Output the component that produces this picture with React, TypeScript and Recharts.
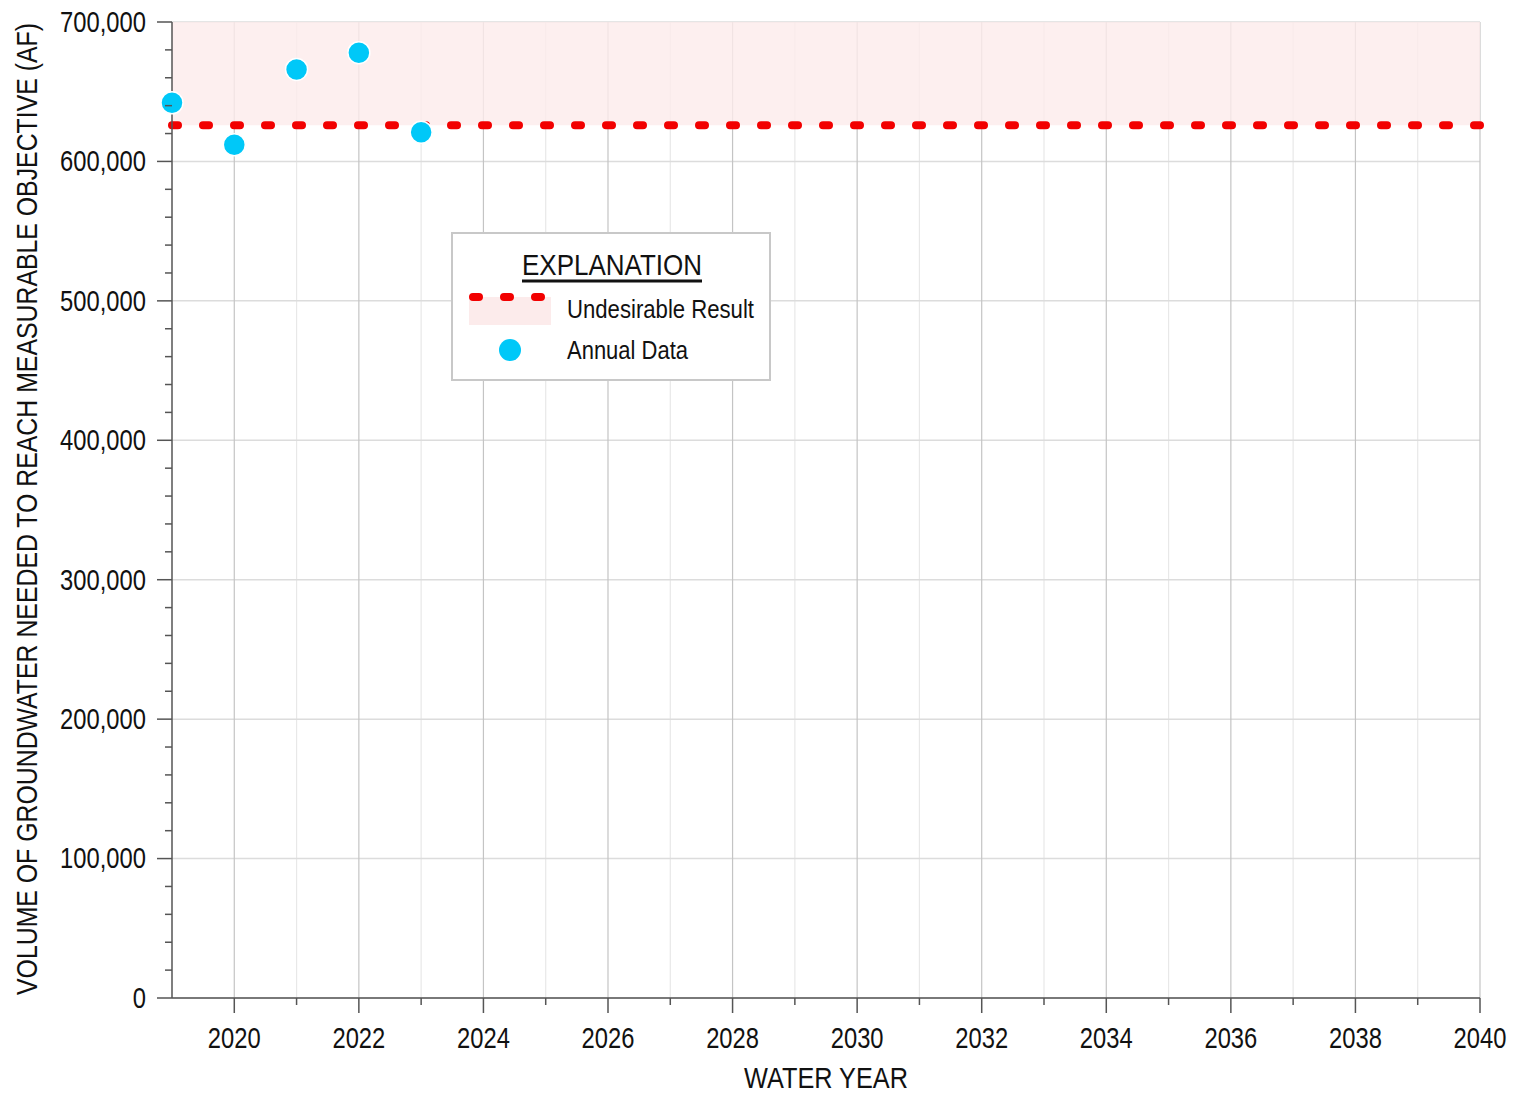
import React from 'react'
import {
  CartesianGrid,
  ComposedChart,
  Label,
  ReferenceArea,
  ReferenceLine,
  Scatter,
  XAxis,
  YAxis,
} from 'recharts'

const years = [2019, 2020, 2021, 2022, 2023]
const annualValues = [642000, 612000, 666000, 678000, 621000]
const undesirableResult = 626000

const xTicks = [2020, 2021, 2022, 2023, 2024, 2025, 2026, 2027, 2028, 2029, 2030, 2031, 2032, 2033, 2034, 2035, 2036, 2037, 2038, 2039, 2040]
const xMajor = [2020, 2022, 2024, 2026, 2028, 2030, 2032, 2034, 2036, 2038, 2040]
const xMinor = [2021, 2023, 2025, 2027, 2029, 2031, 2033, 2035, 2037, 2039]
const yMajor = [0, 100000, 200000, 300000, 400000, 500000, 600000, 700000]
const yTicks = [
  0, 20000, 40000, 60000, 80000, 100000, 120000, 140000, 160000, 180000, 200000,
  220000, 240000, 260000, 280000, 300000, 320000, 340000, 360000, 380000, 400000,
  420000, 440000, 460000, 480000, 500000, 520000, 540000, 560000, 580000, 600000,
  620000, 640000, 660000, 680000, 700000,
]

const data = years.map((year, i) => ({ year, value: annualValues[i] }))

// no Arial Narrow here, so squeeze Liberation Sans (same metrics as Arial)
const FONT = '"Liberation Sans", Arial, sans-serif'
const SQUEEZE = 0.82
const CYAN = '#00c8f8'
const RED = '#f20000'
const PINK = '#fcebeb'

const Narrow = ({ x, y, anchor = 'start', size = 29, children }: any) => (
  <text
    transform={`translate(${x} ${y}) scale(${SQUEEZE} 1)`}
    textAnchor={anchor}
    dominantBaseline="central"
    fontSize={size}
    fontFamily={FONT}
    fill="#111"
  >
    {children}
  </text>
)

const YTick = (props: any) => {
  const { x, y, payload } = props
  const v = payload.value as number
  const major = v % 100000 === 0
  return (
    <g>
      <line x1={x} x2={x - (major ? 15 : 7)} y1={y} y2={y} stroke="#555" strokeWidth={1.5} />
      {major && (
        <Narrow x={x - 26} y={y} anchor="end">
          {v.toLocaleString('en-US')}
        </Narrow>
      )}
    </g>
  )
}

const XTick = (props: any) => {
  const { x, y, payload } = props
  const v = payload.value as number
  const major = v % 2 === 0
  return (
    <g>
      <line x1={x} x2={x} y1={y} y2={y + (major ? 15 : 7)} stroke="#555" strokeWidth={1.5} />
      {major && (
        <Narrow x={x} y={y + 40} anchor="middle">
          {v}
        </Narrow>
      )}
    </g>
  )
}

const Dot = (props: any) => (
  <circle cx={props.cx} cy={props.cy} r={11} fill={CYAN} stroke="#fff" strokeWidth={1.5} />
)

const Explanation = () => (
  <div
    style={{
      position: 'absolute',
      left: 443,
      top: 224,
      width: 316,
      height: 145,
      border: '2px solid #c8c8c8',
      background: '#fff',
    }}
  >
    <svg width={316} height={145} overflow="visible" style={{ position: 'absolute', left: 0, top: 0, overflow: 'visible' }}>
      <text x={69} y={30} textLength={180} lengthAdjust="spacingAndGlyphs" dominantBaseline="central" fontSize={30} textDecoration="underline" fontFamily={FONT} fill="#111">
        EXPLANATION
      </text>
      <rect x={16} y={63} width={82} height={28} fill={PINK} />
      <line x1={20} x2={96} y1={63} y2={63} stroke={RED} strokeWidth={8} strokeDasharray="6 25" strokeLinecap="round" />
      <text x={114} y={75} textLength={187} lengthAdjust="spacingAndGlyphs" dominantBaseline="central" fontSize={26} fontFamily={FONT} fill="#111">
        Undesirable Result
      </text>
      <circle cx={57} cy={116} r={11} fill={CYAN} />
      <text x={114} y={116} textLength={121} lengthAdjust="spacingAndGlyphs" dominantBaseline="central" fontSize={26} fontFamily={FONT} fill="#111">
        Annual Data
      </text>
    </svg>
  </div>
)

export default function App() {
  return (
    <div style={{ position: 'relative', width: 1500, height: 1088 }}>
      <ComposedChart width={1500} height={1088} data={data} margin={{ top: 14, right: 28, bottom: 38, left: 0 }}>
        <ReferenceArea y1={undesirableResult} y2={700000} fill={PINK} fillOpacity={0.8} stroke="none" ifOverflow="hidden" />
        <CartesianGrid horizontal={false} verticalValues={xMinor} stroke="#e8e8e8" strokeWidth={1.2} />
        <CartesianGrid vertical={false} horizontalValues={yMajor} stroke="#dcdcdc" strokeWidth={1.5} />
        <CartesianGrid horizontal={false} verticalValues={xMajor} stroke="#c4c4c4" strokeWidth={1.2} />
        <XAxis
          dataKey="year"
          type="number"
          domain={[2019, 2040]}
          ticks={xTicks}
          interval={0}
          height={60}
          axisLine={{ stroke: '#555', strokeWidth: 1.5 }}
          tickLine={false}
          tickSize={0}
          tickMargin={0}
          tick={<XTick />}
        >
          <Label
            content={(p: any) => (
              <text
                x={p.viewBox.x + p.viewBox.width / 2 - 82}
                y={p.viewBox.y + 80}
                textLength={164}
                lengthAdjust="spacingAndGlyphs"
                dominantBaseline="central"
                fontSize={29}
                fontFamily={FONT}
                fill="#111"
              >
                WATER YEAR
              </text>
            )}
          />
        </XAxis>
        <YAxis
          type="number"
          domain={[0, 700000]}
          ticks={yTicks}
          interval={0}
          width={164}
          axisLine={{ stroke: '#555', strokeWidth: 1.5 }}
          tickLine={false}
          tickSize={0}
          tickMargin={0}
          tick={<YTick />}
        >
          <Label
            content={(p: any) => {
              const cx = 19
              const cy = p.viewBox.y + p.viewBox.height / 2 - 1
              return (
                <text
                  x={cx - 486}
                  y={cy}
                  transform={`rotate(-90 ${cx} ${cy})`}
                  textLength={972}
                  lengthAdjust="spacingAndGlyphs"
                  dominantBaseline="central"
                  fontSize={29}
                  fontFamily={FONT}
                  fill="#111"
                >
                  VOLUME OF GROUNDWATER NEEDED TO REACH MEASURABLE OBJECTIVE (AF)
                </text>
              )
            }}
          />
        </YAxis>
        <ReferenceLine y={undesirableResult} stroke={RED} strokeWidth={8} strokeDasharray="6 25" strokeLinecap="round" />
        <Scatter dataKey="value" shape={<Dot />} isAnimationActive={false} />
      </ComposedChart>
      <Explanation />
    </div>
  )
}
